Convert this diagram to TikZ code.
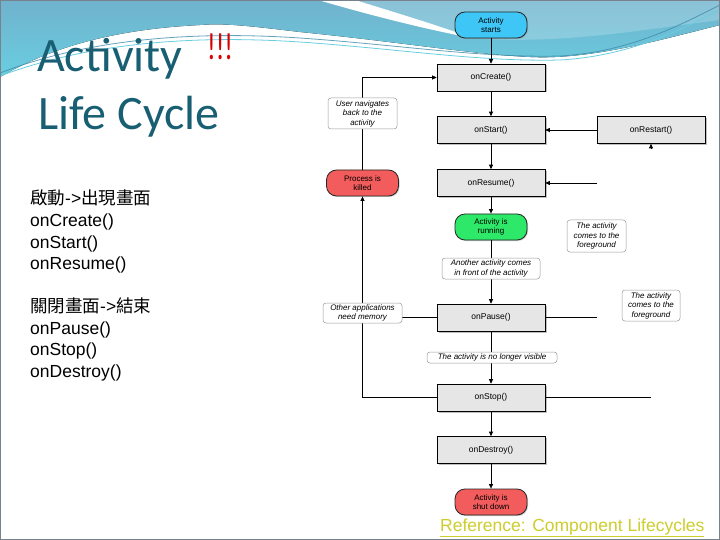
\documentclass[tikz,border=0pt]{standalone}
\usepackage{fontspec}
\setmainfont{Liberation Sans}
\newfontfamily\titlefont{Carlito}
\newfontfamily\cjkfont{Noto Sans CJK TC}
\usetikzlibrary{arrows.meta,shadows}
\definecolor{hdrtop}{RGB}{112,178,205}
\definecolor{hdrbot}{RGB}{105,206,224}
\definecolor{hdrline}{RGB}{60,140,170}
\definecolor{titleblue}{RGB}{25,95,115}
\definecolor{boxgray}{RGB}{230,230,230}
\definecolor{startblue}{RGB}{62,198,246}
\definecolor{rungreen}{RGB}{45,232,105}
\definecolor{killred}{RGB}{242,92,92}
\definecolor{refyellow}{RGB}{205,205,45}
\definecolor{framegray}{RGB}{120,130,140}
\begin{document}
\begin{tikzpicture}[x=1pt,y=-1pt,
  box/.style={draw=black, line width=0.6pt, fill=boxgray, minimum width=108pt, minimum height=27pt, inner sep=0pt,
    font=\fontsize{8.5}{10}\selectfont, drop shadow={shadow xshift=1.5pt, shadow yshift=-1.5pt, opacity=0.5}},
  pill/.style={draw=black!85, line width=0.8pt, rounded corners=10pt, minimum width=72pt, minimum height=26pt, inner sep=0pt,
    align=center, font=\fontsize{8}{9.5}\selectfont, drop shadow={shadow xshift=1pt, shadow yshift=-1pt, opacity=0.4}},
  note/.style={draw=gray!80, line width=0.5pt, rounded corners=3pt, fill=white, align=center, inner sep=1pt,
    font=\itshape\fontsize{8}{9.5}\selectfont},
  arr/.style={line width=0.7pt, -{Triangle[length=4.5pt,width=4pt]}},
  ln/.style={line width=0.7pt},
  lefttext/.style={anchor=base west, inner sep=0pt, font=\fontsize{17.5}{17.5}\selectfont}
]
\useasboundingbox (0,0) rectangle (720,540);
\fill[white] (0,0) rectangle (720,540);
% header
\fill[top color=hdrtop, bottom color=hdrbot] (0,0) -- (720,0) -- (720,25)
  .. controls (660,40) and (590,60) .. (530,57)
  .. controls (470,54) and (400,42) .. (300,32)
  .. controls (250,26) and (225,23) .. (200,25)
  .. controls (120,29) and (55,45) .. (0,77) -- cycle;
\fill[white, opacity=0.2] (355,0) -- (720,0) -- (720,20) .. controls (640,30) and (560,45) .. (470,38) -- cycle;
\fill[white] (318,0) -- (355,0) .. controls (400,14) and (440,26) .. (472,38) .. controls (430,30) and (380,18) .. (318,0) -- cycle;
\draw[hdrline, line width=0.8pt, opacity=0.8] (0,73) .. controls (80,42) and (180,30) .. (300,38)
  .. controls (400,45) and (480,58) .. (560,56) .. controls (630,52) and (680,25) .. (720,5);
\draw[hdrbot, line width=0.8pt] (0,76) .. controls (80,46) and (180,34) .. (300,42)
  .. controls (400,49) and (480,62) .. (560,60) .. controls (630,56) and (680,30) .. (720,10);
\draw[framegray, line width=1.5pt] (0,0) rectangle (720,540);
% title
\node[anchor=base west, inner sep=0pt, font=\titlefont\fontsize{48}{48}\selectfont, text=titleblue] (t1) at (37,72) {Activity};
\node[anchor=base west, inner sep=0pt, font=\titlefont\fontsize{38}{38}\selectfont, text=red!85!black, xscale=0.7] (t2) at (207,60) {!!!};
\node[anchor=base west, inner sep=0pt, font=\titlefont\fontsize{48}{48}\selectfont, text=titleblue] (t3) at (38,130) {Life Cycle};
% left text
\node[lefttext] (l1) at (30,205) {{\cjkfont 啟動}->{\cjkfont 出現畫面}};
\node[lefttext] (l2) at (30,226.5) {onCreate()};
\node[lefttext] (l3) at (30,248) {onStart()};
\node[lefttext] (l4) at (30,269.5) {onResume()};
\node[lefttext] (l5) at (30,312.5) {{\cjkfont 關閉畫面}->{\cjkfont 結束}};
\node[lefttext] (l6) at (30,334) {onPause()};
\node[lefttext] (l7) at (30,355.5) {onStop()};
\node[lefttext] (l8) at (30,377) {onDestroy()};
% diagram nodes
\node[pill, fill=startblue] (start) at (491,25) {Activity\\starts};
\node[box] (create) at (491,77.5) {onCreate()};
\node[box] (startm) at (491,130) {onStart()};
\node[box] (restart) at (651,130) {onRestart()};
\node[box] (resume) at (491,183) {onResume()};
\node[pill, fill=killred] (killed) at (362.5,183) {Process is\\killed};
\node[pill, fill=rungreen] (running) at (491,227) {Activity is\\running};
\node[box] (pause) at (491,317.5) {onPause()};
\node[box] (stop) at (491,397.5) {onStop()};
\node[box] (destroy) at (491,450) {onDestroy()};
\node[pill, fill=killred] (shut) at (491,502) {Activity is\\shut down};
% connectors
\draw[arr] (start) -- (create);
\draw[arr] (create) -- (startm);
\draw[arr] (startm) -- (resume);
\draw[arr] (resume) -- (running);
\draw[arr] (running) -- (pause);
\draw[arr] (pause) -- (stop);
\draw[arr] (stop) -- (destroy);
\draw[arr] (destroy) -- (shut);
\draw[arr] (restart) -- (startm);
\coordinate (rin) at (597,183);
\draw[arr] (rin) -- (resume.east);
\coordinate (rb) at (651,148);
\draw[arr] (rb) -- (restart.south);
\coordinate (pout) at (597,317.5);
\draw[ln] (pause.east) -- (pout);
\coordinate (sout) at (651,397.5);
\draw[ln] (stop.east) -- (sout);
\draw[arr] (killed.north) |- (create.west);
\draw[arr] (stop.west) -| (killed.south);
\draw[ln] (pause.west) -- (pause.west -| killed);
% notes
\node[note, minimum width=69pt, minimum height=31pt] (usernav) at (362.5,113.5) {User navigates\\back to the\\activity};
\node[note, minimum width=59pt, minimum height=32pt] (fg1) at (596.5,236) {The activity\\comes to the\\foreground};
\node[note, minimum width=98pt, minimum height=21pt] (another) at (491,268.5) {Another activity comes\\in front of the activity};
\node[note, minimum width=79pt, minimum height=20pt] (other) at (362.5,313) {Other applications\\need memory};
\node[note, minimum width=58pt, minimum height=31pt] (fg2) at (651,305.5) {The activity\\comes to the\\foreground};
\node[note, minimum width=130pt, minimum height=11pt] (novis) at (492,357.5) {The activity is no longer visible};
% reference
\node[anchor=base west, inner sep=0pt, font=\fontsize{17.5}{17.5}\selectfont, text=refyellow] (ref) at (440,531) {\underline{Reference: Component Lifecycles}};
\end{tikzpicture}
\end{document}
